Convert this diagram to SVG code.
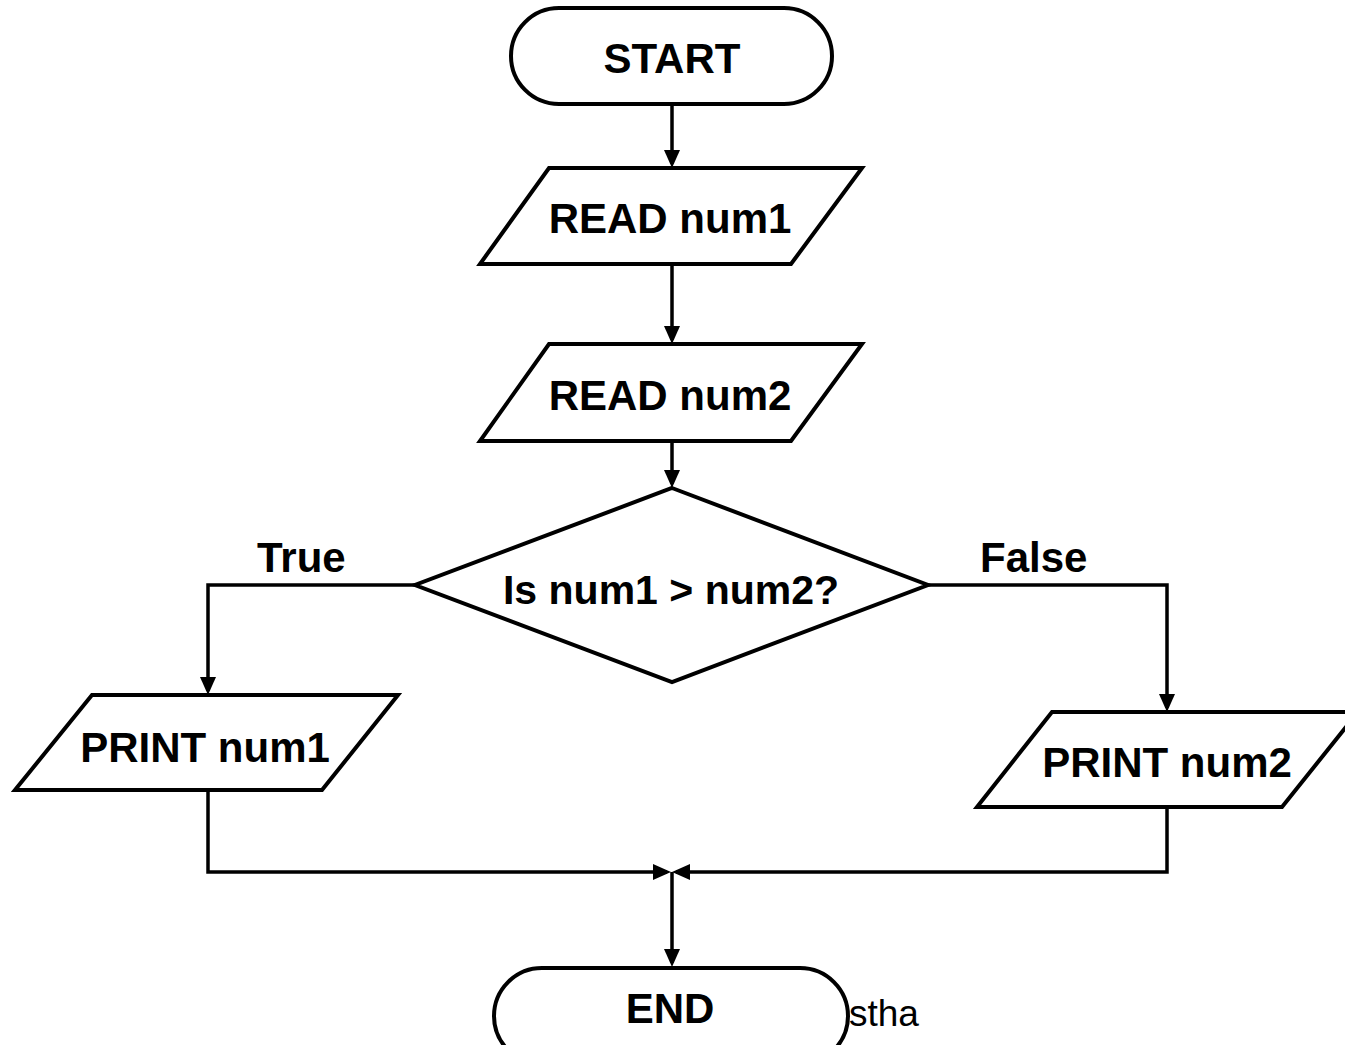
<svg xmlns="http://www.w3.org/2000/svg" width="1345" height="1045" viewBox="0 0 1345 1045">
<style>
.shape{fill:#fff;stroke:#000;stroke-width:4;stroke-linejoin:miter}
.lbl{font-family:"Liberation Sans",Arial,sans-serif;font-weight:bold;font-size:42px;fill:#000;text-anchor:middle}
.edge{fill:none;stroke:#000;stroke-width:3.5}
.plain{font-family:"Liberation Sans",Arial,sans-serif;font-size:37px;fill:#000}
</style>
<defs>
<marker id="arr" viewBox="0 0 18 16" refX="14" refY="8" markerWidth="18" markerHeight="16" markerUnits="userSpaceOnUse" orient="auto">
<path d="M0,0 L18,8 L0,16 Z" fill="#000"/>
</marker>
</defs>
<rect width="1345" height="1045" fill="#fff"/>
<g id="connectors">
<path class="edge" d="M672,104 V164" marker-end="url(#arr)"/>
<path class="edge" d="M672,264 V340" marker-end="url(#arr)"/>
<path class="edge" d="M672,441 V484" marker-end="url(#arr)"/>
<path class="edge" d="M415,585 H208 V691" marker-end="url(#arr)"/>
<path class="edge" d="M928,585 H1167 V708" marker-end="url(#arr)"/>
<path class="edge" d="M208,790 V872 H667" marker-end="url(#arr)"/>
<path class="edge" d="M1167,807 V872 H676" marker-end="url(#arr)"/>
<path class="edge" d="M672,872 V963" marker-end="url(#arr)"/>
<text class="lbl" x="257" y="572" style="text-anchor:start">True</text>
<text class="lbl" x="980" y="572" style="text-anchor:start">False</text>
</g>
<g id="start">
<rect class="shape" x="511" y="8" width="321" height="96" rx="48" ry="48"/>
<text class="lbl" x="672" y="73">START</text>
</g>
<g id="read1">
<polygon class="shape" points="549,168 862,168 791,264 480,264"/>
<text class="lbl" x="670" y="233">READ num1</text>
</g>
<g id="read2">
<polygon class="shape" points="549,344 862,344 791,441 480,441"/>
<text class="lbl" x="670" y="410">READ num2</text>
</g>
<g id="decision">
<polygon class="shape" points="672,488 928,585 672,682 415,585"/>
<text class="lbl" x="671" y="604" style="font-size:41px">Is num1 &gt; num2?</text>
</g>
<g id="print1">
<polygon class="shape" points="92,695 398,695 322,790 15,790"/>
<text class="lbl" x="205" y="762">PRINT num1</text>
</g>
<g id="print2">
<polygon class="shape" points="1052,712 1358,712 1282,807 977,807"/>
<text class="lbl" x="1167" y="777">PRINT num2</text>
</g>
<g id="end">
<rect class="shape" x="494" y="968" width="354" height="96" rx="48" ry="48"/>
<text class="lbl" x="670" y="1023">END</text>
</g>
<text class="plain" x="849" y="1026">stha</text>
</svg>
